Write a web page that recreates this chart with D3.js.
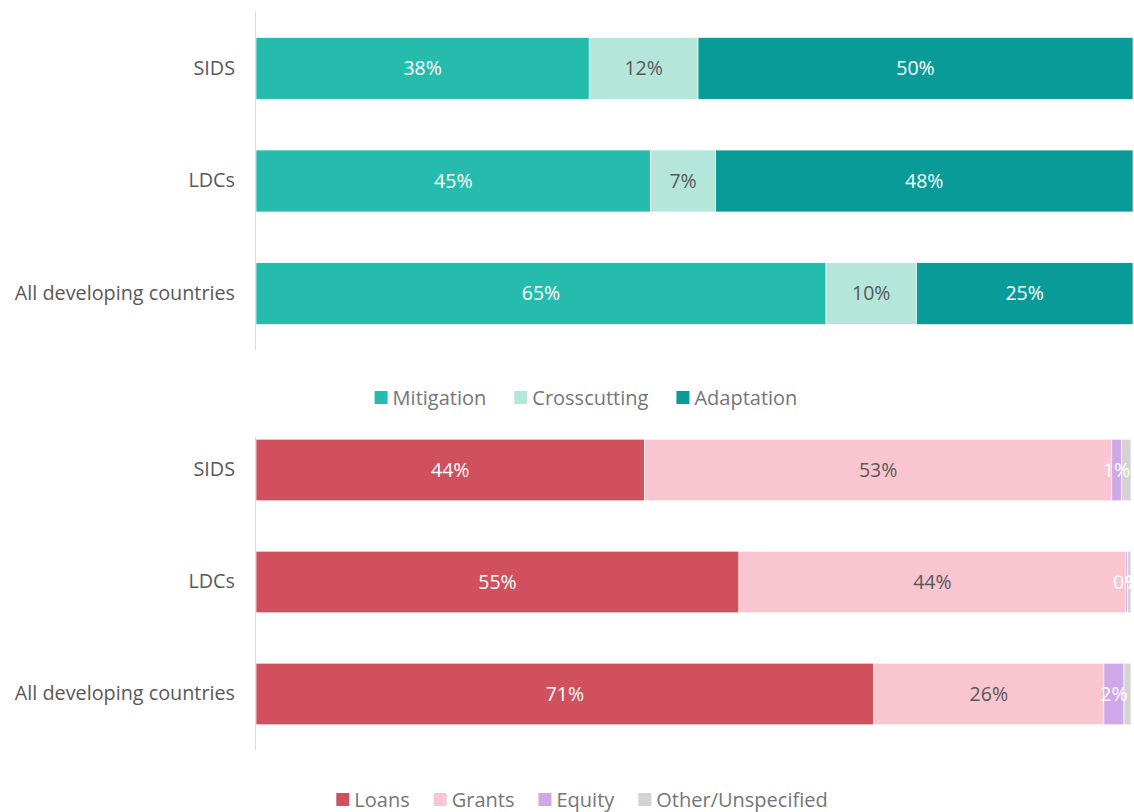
<!DOCTYPE html>
<html>
<head>
<meta charset="utf-8">
<script src="https://cdn.jsdelivr.net/npm/d3@7"></script>
<style>
  body { margin: 0; background: #fff; }
  text { font-family: 'Open Sans', sans-serif; }
</style>
</head>
<body>
<div id="chart"></div>
<script>
let categories = ['SIDS', 'LDCs', 'All developing countries']

// top chart: thematic split (%)
let themeKeys = ['Mitigation', 'Crosscutting', 'Adaptation']
let mitigation = [38.0, 45.0, 65.0]
let crosscutting = [12.4, 7.4, 10.3]
let adaptation = [49.6, 47.6, 24.7]

// bottom chart: instrument split (%)
let instrumentKeys = ['Loans', 'Grants', 'Equity', 'Other/Unspecified']
let loans = [44.4, 55.2, 70.6]
let grants = [53.4, 44.2, 26.3]
let equity = [1.1, 0.2, 2.3]
let other = [1.1, 0.4, 0.8]

let themeColors = ['#26bcad', '#b5e6da', '#099b98']
let themeText = ['#fff', '#595959', '#fff']
let instrumentColors = ['#d0505d', '#f8c5d0', '#cfa8e8', '#d3d3d3']
let instrumentText = ['#fff', '#595959', '#fff', null]

let width = 1134
let height = 812

let svg = d3
  .select('#chart')
  .append('svg')
  .attr('width', width)
  .attr('height', height)

let themeData = categories.map((c, i) => ({
  category: c,
  Mitigation: mitigation[i],
  Crosscutting: crosscutting[i],
  Adaptation: adaptation[i]
}))

let instrumentData = categories.map((c, i) => ({
  category: c,
  Loans: loans[i],
  Grants: grants[i],
  Equity: equity[i],
  'Other/Unspecified': other[i]
}))

function drawPanel(data, keys, colors, textColors, xRange, yRange, axisRange, legendY, legendCenter, legendGap) {
  let g = svg.append('g')

  let xPositionScale = d3.scaleLinear().domain([0, 100]).range(xRange)
  let yPositionScale = d3
    .scaleBand()
    .domain(categories)
    .range(yRange)
    .paddingInner(0.45)
    .paddingOuter(0.225)

  let series = d3.stack().keys(keys)(data)

  let layers = g
    .selectAll('.layer')
    .data(series)
    .enter()
    .append('g')
    .attr('class', 'layer')
    .attr('fill', (d, i) => colors[i])

  layers
    .selectAll('rect')
    .data(d => d)
    .enter()
    .append('rect')
    .attr('x', d => xPositionScale(d[0]))
    .attr('y', d => yPositionScale(d.data.category))
    .attr('width', d => xPositionScale(d[1]) - xPositionScale(d[0]))
    .attr('height', yPositionScale.bandwidth())
    .attr('stroke', '#fff')
    .attr('stroke-width', 0.7)

  series.forEach((s, i) => {
    if (!textColors[i]) return
    g.selectAll('.label-' + i)
      .data(s)
      .enter()
      .append('text')
      .attr('class', 'label-' + i)
      .attr('x', d => (xPositionScale(d[0]) + xPositionScale(d[1])) / 2)
      .attr('y', d => yPositionScale(d.data.category) + yPositionScale.bandwidth() / 2)
      .attr('dy', '0.35em')
      .attr('text-anchor', 'middle')
      .attr('font-size', 19.5)
      .attr('fill', textColors[i])
      .text(d => Math.round(d[1] - d[0]) + '%')
  })

  // category axis
  let yAxis = d3.axisLeft(yPositionScale).tickSize(0).tickPadding(21)
  let axis = g
    .append('g')
    .attr('class', 'axis y-axis')
    .attr('transform', 'translate(' + xRange[0] + ',0)')
    .call(yAxis)
  axis.select('.domain').remove()
  axis
    .selectAll('text')
    .attr('font-size', 19.8)
    .attr('fill', '#595959')
    .style('font-family', "'Open Sans', sans-serif")
  g.append('line')
    .attr('x1', xRange[0] - 0.5)
    .attr('x2', xRange[0] - 0.5)
    .attr('y1', axisRange[0])
    .attr('y2', axisRange[1])
    .attr('stroke', '#d9d9d9')
    .attr('stroke-width', 1)

  // legend
  let legend = g.append('g')
  let items = legend
    .selectAll('.item')
    .data(keys)
    .enter()
    .append('g')
    .attr('class', 'item')
  items
    .append('rect')
    .attr('width', 13)
    .attr('height', 13)
    .attr('y', -7)
    .attr('fill', (d, i) => colors[i])
  items
    .append('text')
    .attr('x', 18)
    .attr('dy', '0.35em')
    .attr('font-size', 20)
    .attr('fill', '#767676')
    .text(d => d)
  let offset = 0
  items.each(function () {
    let w = 18 + d3.select(this).select('text').node().getComputedTextLength()
    d3.select(this).attr('transform', 'translate(' + offset + ',0)')
    offset += w + legendGap
  })
  let total = offset - legendGap
  legend.attr('transform', 'translate(' + (legendCenter - total / 2) + ',' + legendY + ')')
}

drawPanel(themeData, themeKeys, themeColors, themeText, [256, 1133], [12, 350], [12, 350], 398, 586, 28)
drawPanel(instrumentData, instrumentKeys, instrumentColors, instrumentText, [256, 1131], [414, 750], [437, 750], 800, 582, 24)
</script>
</body>
</html>
